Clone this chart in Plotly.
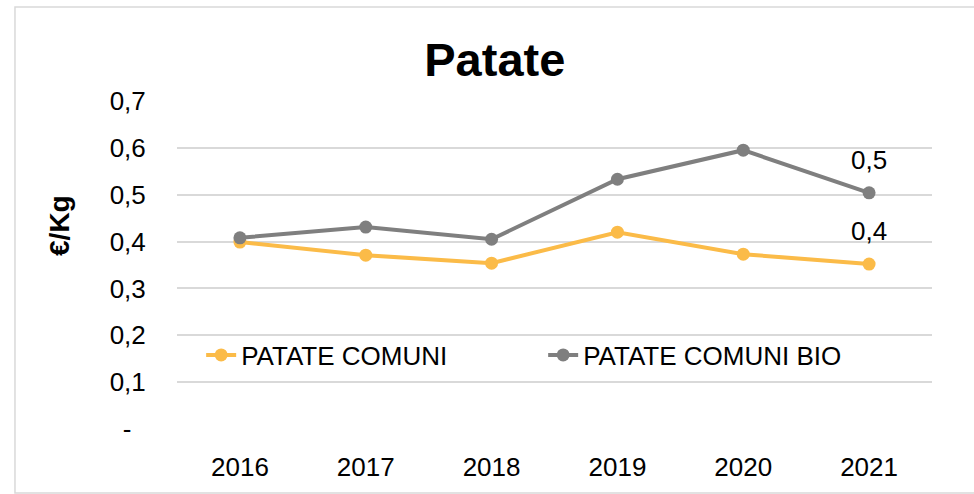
import plotly.graph_objects as go

years = ["2016", "2017", "2018", "2019", "2020", "2021"]
patate_comuni = [0.399, 0.371, 0.354, 0.420, 0.373, 0.352]
patate_comuni_bio = [0.408, 0.431, 0.405, 0.533, 0.595, 0.504]
y_tickvals = [0, 0.1, 0.2, 0.3, 0.4, 0.5, 0.6, 0.7]
y_ticktext = ["-\u00a0\u00a0", "0,1", "0,2", "0,3", "0,4", "0,5", "0,6", "0,7"]

ORANGE = "#FBBB48"
GRAY = "#7F7F7F"
FONT = "Liberation Sans, Arial, sans-serif"


def fmt(v):
    return f"{v:.1f}".replace(".", ",")


fig = go.Figure()
fig.add_trace(go.Scatter(
    x=years, y=patate_comuni, name="PATATE COMUNI", mode="lines+markers",
    line=dict(color=ORANGE, width=4), marker=dict(color=ORANGE, size=13),
))
fig.add_trace(go.Scatter(
    x=years, y=patate_comuni_bio, name="PATATE COMUNI BIO", mode="lines+markers",
    line=dict(color=GRAY, width=4), marker=dict(color=GRAY, size=13),
))

labels = []
last_idx = len(years) - 1
for series in (patate_comuni, patate_comuni_bio):
    labels.append(dict(text=fmt(series[-1]), x=last_idx, y=series[-1], xref="x", yref="y",
                       xanchor="center", yanchor="middle", yshift=33, showarrow=False,
                       font=dict(size=26, family=FONT, color="#000000")))

fig.update_layout(
    width=974, height=494,
    margin=dict(l=177, r=42, t=101, b=65),
    paper_bgcolor="white", plot_bgcolor="white",
    font=dict(family=FONT, size=26, color="#000000"),
    title=dict(text="<b>Patate</b>", x=0.508, xanchor="center", y=0.879, yanchor="middle",
               font=dict(size=47, family=FONT, color="#000000")),
    showlegend=True,
    legend=dict(orientation="h", x=0.032, xanchor="left", y=0.2256, yanchor="middle",
                bgcolor="rgba(0,0,0,0)", font=dict(size=26, family=FONT),
                entrywidth=297, entrywidthmode="pixels", traceorder="normal"),
    xaxis=dict(type="category", range=[-0.5, 5.5], showgrid=False, zeroline=False,
               showline=False, ticks="outside", ticklen=15, tickcolor="rgba(0,0,0,0)",
               tickfont=dict(size=26, family=FONT)),
    yaxis=dict(range=[0, 0.7], tickvals=y_tickvals, ticktext=y_ticktext,
               showgrid=True, gridcolor="#D9D9D9", gridwidth=1.5, zeroline=False,
               showline=False, ticks="outside", ticklen=25, tickcolor="rgba(0,0,0,0)",
               tickfont=dict(size=26, family=FONT)),
    annotations=[dict(text="<b>€/Kg</b>", xref="paper", yref="paper", x=-0.155, y=0.622,
                      xanchor="center", yanchor="middle", textangle=-90, showarrow=False,
                      font=dict(size=28, family=FONT, color="#000000"))] + labels,
    shapes=[dict(type="rect", xref="paper", yref="paper", x0=-0.2146, x1=1.06,
                 y0=-0.195, y1=1.2866, line=dict(color="#D9D9D9", width=1.5),
                 fillcolor="rgba(0,0,0,0)", layer="below")],
)

fig.write_html("out.html", config={"displayModeBar": False},
               post_script="document.body.style.margin='0';")
